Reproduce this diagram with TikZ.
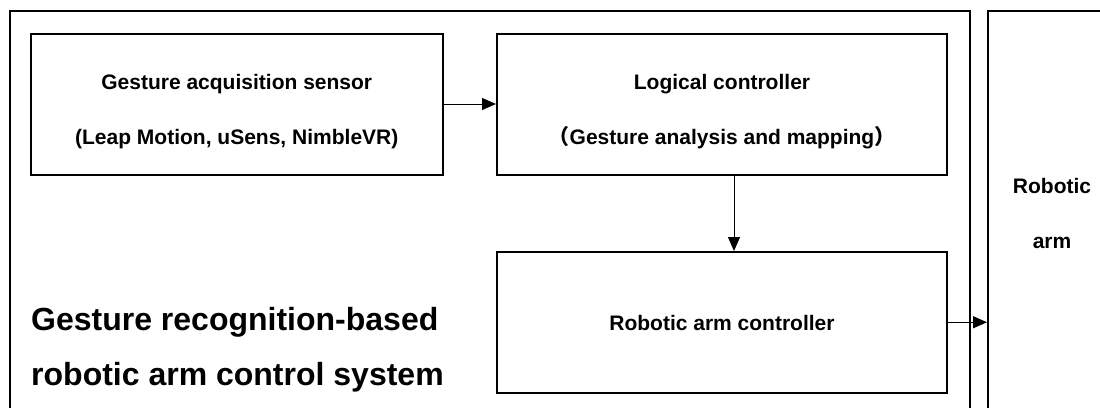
\documentclass[tikz,border=0pt]{standalone}
\usepackage{fontspec}
\setmainfont{Liberation Sans}
\newfontfamily\cjk{Noto Sans CJK SC}
\usetikzlibrary{arrows.meta}
\begin{document}
\begin{tikzpicture}[x=1pt,y=-1pt,
  box/.style={draw,line width=2pt,inner sep=0pt},
  lbl/.style={font=\fontsize{21}{21}\selectfont\bfseries,anchor=base,inner sep=0pt},
  big/.style={font=\fontsize{32}{32}\selectfont\bfseries,anchor=base west,inner sep=0pt},
  conn/.style={line width=1pt,-{Triangle[length=14pt,width=12pt]}}]
\useasboundingbox (0,0) rectangle (1100,407);
\clip (0,0) rectangle (1100,407);
\fill[white] (0,0) rectangle (1100,407);
% outer system frame (bottom edge cut off)
\node[box,minimum width=960.5pt,minimum height=419pt] (system) at (489.75,220.5) {};
% robotic arm box (right and bottom cut off)
\node[box,minimum width=132pt,minimum height=419pt] (arm) at (1054,220.5) {};
% inner boxes
\node[box,minimum width=412.5pt,minimum height=141pt] (sensor) at (236.75,104) {};
\node[box,minimum width=450pt,minimum height=141pt] (logic) at (722,104) {};
\node[box,minimum width=450pt,minimum height=140.5pt] (ctrl) at (722,322.25) {};
% texts
\node[lbl] (t1a) at (236.75,89.5) {Gesture acquisition sensor};
\node[lbl] (t1b) at (236.75,144) {(Leap Motion, uSens, NimbleVR)};
\node[lbl] (t2a) at (722,89.5) {Logical controller};
\node[lbl] (t2b) at (722,144) {{\cjk （}Gesture analysis and mapping{\cjk ）}};
\node[lbl] (t3) at (722,330) {Robotic arm controller};
\node[lbl] (t4a) at (1052,193) {Robotic};
\node[lbl] (t4b) at (1052,248) {arm};
\node[big] (title1) at (31,330) {Gesture recognition-based};
\node[big] (title2) at (31,385) {robotic arm control system};
% connectors
\draw[conn] (sensor.east) -- (logic.west);
\draw[conn] ([xshift=12pt]logic.south) -- ([xshift=12pt]ctrl.north);
\draw[conn] (ctrl.east) -- (ctrl.east -| arm.west);
\end{tikzpicture}
\end{document}
